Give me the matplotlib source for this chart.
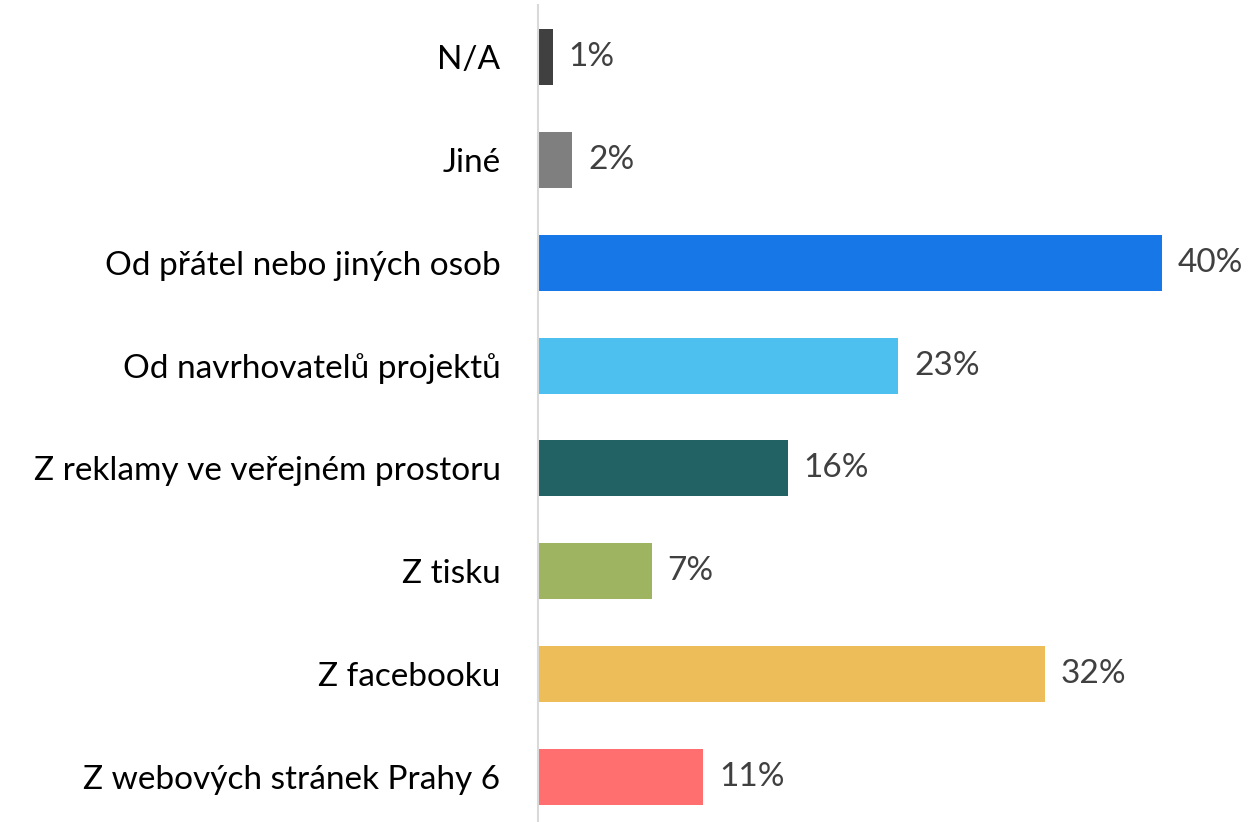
import matplotlib.pyplot as plt

categories = ['N/A', 'Jiné', 'Od přátel nebo jiných osob', 'Od navrhovatelů projektů',
              'Z reklamy ve veřejném prostoru', 'Z tisku', 'Z facebooku',
              'Z webových stránek Prahy 6']
values = [0.96, 2.2, 40.0, 23.1, 16.0, 7.3, 32.5, 10.6]
value_labels = ['1%', '2%', '40%', '23%', '16%', '7%', '32%', '11%']
colors = ['#404040', '#7f7f7f', '#1777e6', '#4dc0f0', '#236264', '#9fb460', '#ecbd59', '#ff6f6f']

plt.rcParams['font.family'] = ['Lato', 'DejaVu Sans']

fig = plt.figure(figsize=(12.5, 8.22), dpi=100)
ax = fig.add_axes([0.4304, 0.0, 0.5, 817 / 822])

y = list(range(len(categories)))
ax.barh(y, values, height=0.544, color=colors)
ax.set_ylim(7.4375, -0.5055)
ax.set_xlim(0, 40 * (1250 * 0.5) / 624)

for i, (v, lab) in enumerate(zip(values, value_labels)):
    ax.text(v + 1.0, i, lab, va='center', ha='left', fontsize=24, color='#404040')

ax.set_yticks(y)
ax.set_yticklabels(categories, fontsize=24, color='black')
ax.tick_params(axis='y', length=0, pad=27)
ax.set_xticks([])
for s in ['top', 'right', 'bottom']:
    ax.spines[s].set_visible(False)
ax.spines['left'].set_color('#d9d9d9')
ax.spines['left'].set_linewidth(1.5)

fig.savefig('out.png', dpi=100)
